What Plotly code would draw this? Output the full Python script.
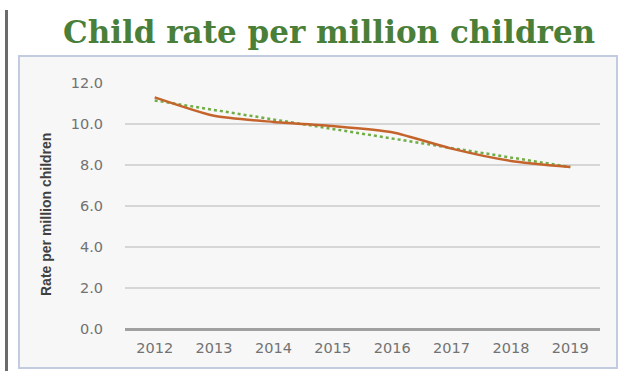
import numpy as np
import plotly.graph_objects as go

# Data
years = ["2012", "2013", "2014", "2015", "2016", "2017", "2018", "2019"]
rates = [11.3, 10.4, 10.1, 9.9, 9.6, 8.8, 8.2, 7.9]
y_ticks = [0, 2, 4, 6, 8, 10, 12]
y_tick_labels = ["0.0", "2.0", "4.0", "6.0", "8.0", "10.0", "12.0"]

# Linear trendline fitted to the rates
idx = np.arange(len(rates))
slope, intercept = np.polyfit(idx, rates, 1)
trend = (slope * idx + intercept).tolist()

W, H = 620, 371
ML, MR, MT, MB = 125, 20, 83, 42
PW, PH = W - ML - MR, H - MT - MB


def px(x):
    return (x - ML) / PW


def py(y):
    return (H - MB - y) / PH


fig = go.Figure()
fig.add_trace(go.Scatter(
    x=years, y=trend, mode="lines",
    line=dict(color="#70ad47", width=2.5, dash="dot"),
    hoverinfo="skip", showlegend=False,
))
fig.add_trace(go.Scatter(
    x=years, y=rates, mode="lines",
    line=dict(color="#c4642c", width=2.5, shape="spline", smoothing=0.6),
    showlegend=False,
))

fig.update_layout(
    width=W, height=H,
    margin=dict(l=ML, r=MR, t=MT, b=MB),
    paper_bgcolor="white",
    plot_bgcolor="rgba(0,0,0,0)",
    showlegend=False,
    xaxis=dict(
        type="category", range=[-0.5, len(years) - 0.5],
        showgrid=False, zeroline=False, showline=False,
        ticks="outside", ticklen=6, tickcolor="rgba(0,0,0,0)",
        tickfont=dict(family="DejaVu Sans", size=14.5, color="#727272"),
    ),
    yaxis=dict(
        range=[0, 12], tickvals=y_ticks, ticktext=y_tick_labels,
        showgrid=True, gridcolor="#d6d6d6", gridwidth=2,
        zeroline=True, zerolinecolor="#a0a0a0", zerolinewidth=3,
        showline=False, ticks="outside", ticklen=18,
        tickcolor="rgba(0,0,0,0)",
        tickfont=dict(family="DejaVu Sans", size=14.5, color="#727272"),
    ),
    shapes=[
        # chart frame
        dict(type="rect", xref="paper", yref="paper",
             x0=px(19), x1=px(617), y0=py(368), y1=py(56),
             line=dict(color="#c3cbe0", width=2), fillcolor="#f7f7f7",
             layer="below"),
        # dark rule on the left edge
        dict(type="line", xref="paper", yref="paper",
             x0=px(6.5), x1=px(6.5), y0=py(371), y1=py(10),
             line=dict(color="#6b6b6b", width=3)),
    ],
    annotations=[
        dict(text="<b>Child rate per million children</b>",
             xref="paper", yref="paper", x=px(329), y=py(32),
             xanchor="center", yanchor="middle", showarrow=False,
             font=dict(family="DejaVu Serif", size=31, color="#4a7f39")),
        dict(text="<b>Rate per million children</b>",
             xref="paper", yref="paper", x=px(46), y=py(215),
             xanchor="center", yanchor="middle", showarrow=False,
             textangle=-90,
             font=dict(family="Liberation Sans Narrow, Liberation Sans",
                       size=14, color="#404040")),
    ],
)

fig.write_html("out.html")
